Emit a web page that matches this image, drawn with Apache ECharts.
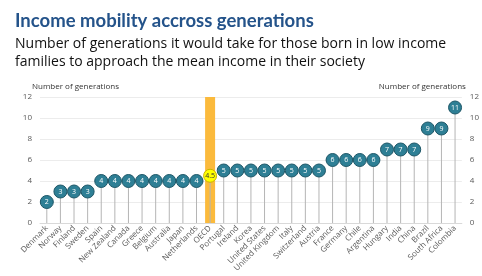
<!DOCTYPE html>
<html><head><meta charset="utf-8">
<script src="https://cdn.jsdelivr.net/npm/echarts@6/dist/echarts.min.js"></script>
<style>html,body{margin:0;padding:0;background:#fff}#c{width:482px;height:276px}</style>
</head><body><div id="c"></div>
<script>
const countries = ["Denmark","Norway","Finland","Sweden","Spain","New Zealand","Canada","Greece","Belgium","Australia","Japan","Netherlands","OECD","Portugal","Ireland","Korea","United States","United Kingdom","Italy","Switzerland","Austria","France","Germany","Chile","Argentina","Hungary","India","China","Brazil","South Africa","Colombia"];
const generations = [2,3,3,3,4,4,4,4,4,4,4,4,4.5,5,5,5,5,5,5,5,5,6,6,6,6,7,7,7,9,9,11];
const highlight = "OECD";
const highlightBarValue = 12;
const yTicks = [0,2,4,6,8,10,12];

const font = '"Open Sans", "Noto Sans", sans-serif';
const chart = echarts.init(document.getElementById('c'), null, {renderer:'canvas'});
const barData = countries.map(c => c === highlight ? highlightBarValue : '-');
const dotData = generations.map((v,i) => countries[i] === highlight ? {
  value: v,
  itemStyle: {color:'#FFFF00', borderColor:'#C8B400'},
  label: {color:'#333'}
} : v);
const yAxisBase = {
  type:'value', min:yTicks[0], max:yTicks[yTicks.length-1], interval:2,
  axisLine:{show:false}, axisTick:{show:false},
  axisLabel:{color:'#595959', fontSize:8, fontFamily:font},
  splitLine:{lineStyle:{color:'#ececec', width:1}}
};
chart.setOption({
  animation:false,
  title:[
    {text:'Income mobility accross generations', left:10, top:7,
     textStyle:{fontFamily:'Lato, "Open Sans", sans-serif', fontSize:18.5, fontWeight:'bold', color:'#24538A'}},
    {text:'Number of generations it would take for those born in low income\nfamilies to approach the mean income in their society', left:10, top:30,
     textStyle:{fontFamily:font, fontSize:14, fontWeight:'normal', color:'#111', lineHeight:18}}
  ],
  grid:{left:40, right:17, top:97, bottom:53, containLabel:false},
  xAxis:[
    {type:'category', data:countries,
     axisLine:{lineStyle:{color:'#d9d9d9'}}, axisTick:{show:false},
     axisLabel:{rotate:45, interval:0, color:'#595959', fontSize:8, fontFamily:font, margin:4}},
    {type:'category', data:countries, show:false}
  ],
  yAxis:[
    Object.assign({}, yAxisBase, {position:'left', name:'Number of generations', nameLocation:'end', nameGap:6,
      nameTextStyle:{color:'#333', fontSize:8, fontFamily:font, align:'left', padding:[0,0,0,-8]}}),
    Object.assign({}, yAxisBase, {position:'right', name:'Number of generations', nameLocation:'end', nameGap:6,
      nameTextStyle:{color:'#333', fontSize:8, fontFamily:font, align:'right', padding:[0,-4,0,0]}, splitLine:{show:false}})
  ],
  series:[
    {type:'bar', xAxisIndex:1, yAxisIndex:0, data:barData, barWidth:10, itemStyle:{color:'#FBBA3C'}, silent:true},
    {type:'bar', xAxisIndex:0, yAxisIndex:0, data:generations, barWidth:1, itemStyle:{color:'#b5b5b5'}, silent:true},
    {type:'scatter', xAxisIndex:0, yAxisIndex:0, data:dotData, symbolSize:13,
     itemStyle:{color:'#2E7F95', borderColor:'#1B5566', borderWidth:1, opacity:1},
     label:{show:true, position:'inside', color:'#fff', fontSize:7, fontFamily:font}, z:5}
  ]
});
</script></body></html>
